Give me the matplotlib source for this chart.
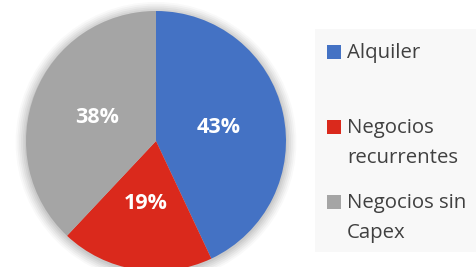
import matplotlib
matplotlib.use("Agg")
import matplotlib.pyplot as plt
from matplotlib.patches import Rectangle, Circle

categories = ["Alquiler", "Negocios\nrecurrentes", "Negocios sin\nCapex"]
values = [43, 19, 38]
colors = ["#4472C4", "#DA291C", "#A5A5A5"]

W, H = 477, 267
fig = plt.figure(figsize=(W / 100, H / 100), dpi=100)
fig.patch.set_facecolor("white")

# pie axes: center (156,141) px, radius 130 px
cx, cy, r = 156, 141, 130
ax = fig.add_axes([(cx - r) / W, 1 - (cy + r) / H, 2 * r / W, 2 * r / H])
# soft shadow
for i, a in enumerate([0.025, 0.03, 0.035, 0.04, 0.045, 0.05]):
    ax.add_patch(Circle((0.0, -0.01), 1 + 0.08 - i * 0.014, color="black", alpha=a,
                        lw=0, zorder=0, clip_on=False))
wedges, texts, autotexts = ax.pie(
    values, colors=colors, startangle=90, counterclock=False,
    autopct=lambda p: f"{p:.0f}%", pctdistance=0.49,
    wedgeprops=dict(linewidth=0),
    textprops=dict(color="white", fontsize=15.5, fontweight="bold", family="Open Sans"),
)
for w in wedges:
    w.set_zorder(2)
    w.set_clip_on(False)
for t in autotexts:
    t.set_zorder(3)
ax.set_xlim(-1, 1)
ax.set_ylim(-1, 1)
ax.set_aspect("equal")
ax.axis("off")

# legend
lax = fig.add_axes([0, 0, 1, 1])
lax.set_xlim(0, W)
lax.set_ylim(H, 0)
lax.axis("off")
lax.add_patch(Rectangle((315, 29), W - 315, 252 - 29, color="#F8F8F8", lw=0))
baselines = [57.7, 132.7, 207.7]
for lab, col, by in zip(categories, colors, baselines):
    lax.add_patch(Rectangle((327.3, by - 13), 14, 14, color=col, lw=0))
    for k, line in enumerate(lab.split("\n")):
        lax.text(347, by + 30 * k, line, ha="left", va="baseline", fontsize=14.7,
                 color="#404040", family="Open Sans")

fig.savefig("out.png", dpi=100)
